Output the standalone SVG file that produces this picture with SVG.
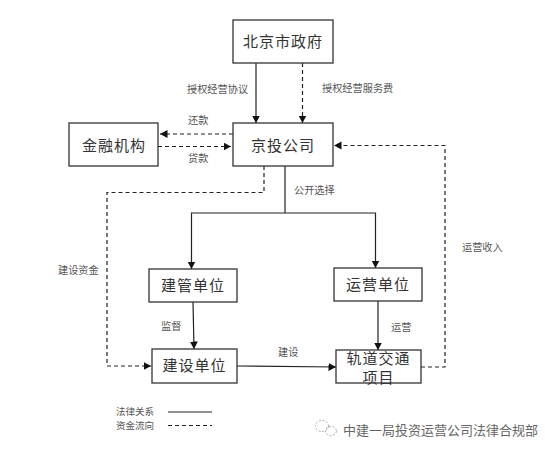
<svg xmlns="http://www.w3.org/2000/svg" width="555" height="455" viewBox="0 0 555 455">
<style>
text{font-family:"Noto Sans CJK SC","Liberation Sans",sans-serif;fill:#444}
.n rect{fill:#fff;stroke:#333;stroke-width:1.3}
.n text{font-size:15px;text-anchor:middle;letter-spacing:1px;fill:#333}
.l{font-size:10.200px;fill:#555}
.s,.d{fill:none;stroke:#222;stroke-width:1.2}
.d{stroke-dasharray:4 3}
</style>
<defs><marker id="a" markerWidth="9" markerHeight="9" refX="7.500" refY="4" orient="auto" markerUnits="userSpaceOnUse"><path d="M0 0L7.500 4L0 8z" fill="#111"/></marker></defs>
<rect width="555" height="455" fill="#fff"/>
<g id="connectors">
<path class="s" d="M256 63V123" marker-end="url(#a)"/>
<path class="d" d="M302.500 63V123" marker-end="url(#a)"/>
<path class="d" d="M233 134H160" marker-end="url(#a)"/>
<path class="d" d="M158 146.500H231" marker-end="url(#a)"/>
<path class="d" d="M421 367H445V145.500H334" marker-end="url(#a)"/>
<path class="d" d="M264 166V192.500H107V366H151" marker-end="url(#a)"/>
<path class="s" d="M285 166V213"/>
<path class="s" d="M285 213H191.500V269" marker-end="url(#a)"/>
<path class="s" d="M285 213H375.500V268" marker-end="url(#a)"/>
<path class="s" d="M193 302L194 349" marker-end="url(#a)"/>
<path class="s" d="M378 301V350" marker-end="url(#a)"/>
<path class="s" d="M237 366L336 367" marker-end="url(#a)"/>
<path class="s" d="M168 412H212"/>
<path class="d" d="M168 425.500H212"/>
</g>
<g id="beijing" class="n"><rect x="233" y="20" width="100" height="43"/><text x="283" y="47">北京市政府</text></g>
<g id="jinrong" class="n"><rect x="69" y="123" width="89" height="43"/><text x="114" y="151">金融机构</text></g>
<g id="jingtou" class="n"><rect x="233" y="123" width="100" height="43"/><text x="283" y="151">京投公司</text></g>
<g id="jianguan" class="n"><rect x="149" y="269" width="88" height="33"/><text x="193" y="291">建管单位</text></g>
<g id="yunying" class="n"><rect x="334" y="268" width="88" height="33"/><text x="378" y="290">运营单位</text></g>
<g id="jianshe" class="n"><rect x="152" y="349" width="85" height="34"/><text x="194.500" y="371">建设单位</text></g>
<g id="guidao" class="n"><rect x="336" y="350" width="85" height="33"/><text x="378.500" y="364">轨道交通</text><text x="378.500" y="383">项目</text></g>
<g id="labels">
<text class="l" x="187" y="93">授权经营协议</text>
<text class="l" x="322" y="92">授权经营服务费</text>
<text class="l" x="188" y="124">还款</text>
<text class="l" x="188" y="162">贷款</text>
<text class="l" x="294" y="194">公开选择</text>
<text class="l" x="58" y="274">建设资金</text>
<text class="l" x="161" y="330">监督</text>
<text class="l" x="278" y="356">建设</text>
<text class="l" x="391" y="331">运营</text>
<text class="l" x="462" y="251">运营收入</text>
<text x="116" y="415" style="font-size:9.500px;fill:#555">法律关系</text>
<text x="116" y="429" style="font-size:9.500px;fill:#555">资金流向</text>
</g>
<g id="watermark">
<g fill="none" stroke="#aaa" stroke-width="1" stroke-dasharray="2 1.500"><ellipse cx="322" cy="426" rx="6.500" ry="5.500"/><ellipse cx="331" cy="431" rx="5.500" ry="4.500"/></g>
<text x="343" y="435" style="font-size:13px;fill:#666">中建一局投资运营公司法律合规部</text>
</g>
</svg>
